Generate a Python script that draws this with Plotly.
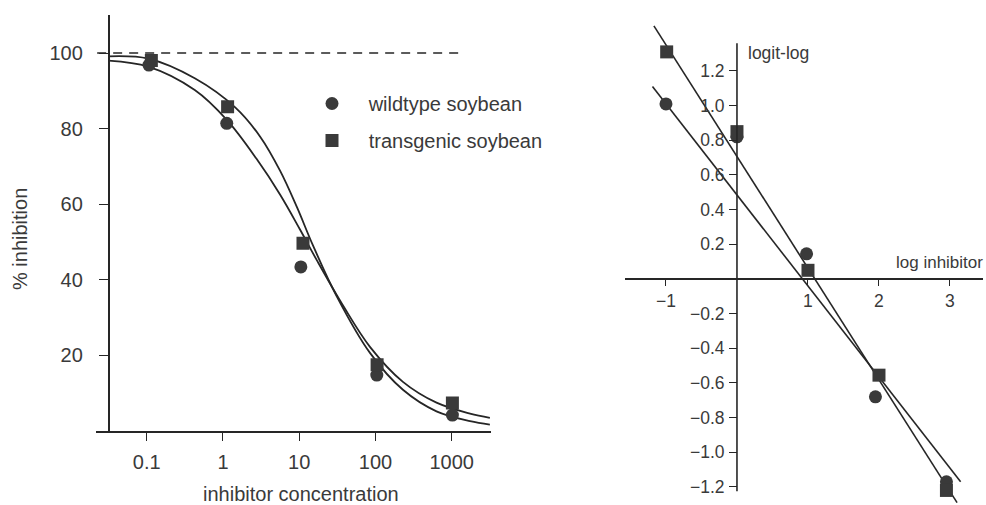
import plotly.graph_objects as go

# ---------------- data ----------------
# left panel: % inhibition vs inhibitor concentration
conc_wt = [0.107, 1.12, 10.5, 104, 1020]
pct_wt = [96.8, 81.4, 43.4, 14.8, 4.2]
conc_tg = [0.115, 1.15, 11.2, 105, 1020]
pct_tg = [98.0, 85.8, 49.7, 17.5, 7.4]

# fitted curves, sampled (log10 concentration, % inhibition)
curve_wt_logx = [-1.5, -0.98, -0.37, 0.05, 0.44, 0.75, 1.01, 1.23, 1.58, 1.93, 2.36, 2.8, 3.24, 3.5]
curve_wt_y = [98.0, 96.4, 90.2, 82.3, 72.0, 62.5, 53.3, 45.2, 33.0, 22.2, 13.0, 7.5, 4.6, 3.5]
curve_tg_logx = [-1.5, -0.98, -0.37, 0.16, 0.49, 0.75, 0.97, 1.18, 1.49, 1.93, 2.36, 2.8, 3.24, 3.5]
curve_tg_y = [99.1, 98.5, 93.3, 85.6, 77.8, 68.8, 59.2, 49.1, 35.7, 20.6, 10.9, 5.2, 2.6, 1.7]

plateau_logx = [-1.65, 3.15]
plateau_y = [100, 100]

x_ticks_left = [0.1, 1, 10, 100, 1000]
x_ticklabels_left = ["0.1", "1", "10", "100", "1000"]
y_ticks_left = [20, 40, 60, 80, 100]

# right panel: logit-log plot
logx_wt = [-1.0, 0.0, 0.98, 1.95, 2.95]
logit_wt = [1.01, 0.82, 0.145, -0.68, -1.17]
logx_tg = [-0.99, 0.0, 1.0, 2.0, 2.95]
logit_tg = [1.31, 0.85, 0.05, -0.555, -1.22]

fit_wt_x = [-1.19, 3.15]
fit_wt_y = [1.11, -1.17]
fit_tg_x = [-1.17, 3.10]
fit_tg_y = [1.46, -1.29]

x_ticks_right = [-1, 1, 2, 3]
y_ticks_right = [1.2, 1.0, 0.8, 0.6, 0.4, 0.2, -0.2, -0.4, -0.6, -0.8, -1.0, -1.2]

# ---------------- styling ----------------
W, H = 986, 505
FONT = "Liberation Sans, Arial, sans-serif"
INK = "#262626"
TXT = "#3a3a3a"
MK = "#3a3a3a"

def px_x(p):
    return p / W

def px_y(p):
    return (H - p) / H

fig = go.Figure()

# ---- left panel ----
fig.add_trace(go.Scatter(
    x=[10 ** v for v in plateau_logx], y=plateau_y, mode="lines",
    line=dict(color=INK, width=1.4, dash="9px,7px"),
    showlegend=False, hoverinfo="skip", xaxis="x", yaxis="y"))
fig.add_trace(go.Scatter(
    x=[10 ** v for v in curve_wt_logx], y=curve_wt_y, mode="lines",
    line=dict(color=INK, width=1.8, shape="spline", smoothing=1.0),
    showlegend=False, hoverinfo="skip", xaxis="x", yaxis="y"))
fig.add_trace(go.Scatter(
    x=[10 ** v for v in curve_tg_logx], y=curve_tg_y, mode="lines",
    line=dict(color=INK, width=1.8, shape="spline", smoothing=1.0),
    showlegend=False, hoverinfo="skip", xaxis="x", yaxis="y"))
fig.add_trace(go.Scatter(
    x=conc_wt, y=pct_wt, mode="markers", name="\u00a0\u00a0\u00a0wildtype soybean",
    marker=dict(symbol="circle", size=13, color=MK),
    legendgroup="wt", xaxis="x", yaxis="y"))
fig.add_trace(go.Scatter(
    x=conc_tg, y=pct_tg, mode="markers", name="\u00a0\u00a0\u00a0transgenic soybean",
    marker=dict(symbol="square", size=13, color=MK),
    legendgroup="tg", xaxis="x", yaxis="y"))

# ---- right panel ----
fig.add_trace(go.Scatter(
    x=fit_wt_x, y=fit_wt_y, mode="lines", line=dict(color=INK, width=1.6),
    showlegend=False, hoverinfo="skip", xaxis="x2", yaxis="y2"))
fig.add_trace(go.Scatter(
    x=fit_tg_x, y=fit_tg_y, mode="lines", line=dict(color=INK, width=1.6),
    showlegend=False, hoverinfo="skip", xaxis="x2", yaxis="y2"))
fig.add_trace(go.Scatter(
    x=logx_wt, y=logit_wt, mode="markers",
    marker=dict(symbol="circle", size=13, color=MK),
    showlegend=False, xaxis="x2", yaxis="y2"))
fig.add_trace(go.Scatter(
    x=logx_tg, y=logit_tg, mode="markers",
    marker=dict(symbol="square", size=13, color=MK),
    showlegend=False, xaxis="x2", yaxis="y2"))

left_xrange = [-1.66, 3.52]
left_dom = [px_x(96.4), px_x(491.4)]
yaxis_pos_left = left_dom[0] + (-1.5 - left_xrange[0]) / (left_xrange[1] - left_xrange[0]) * (left_dom[1] - left_dom[0])

fig.update_layout(
    width=W, height=H,
    margin=dict(l=0, r=0, t=0, b=0),
    paper_bgcolor="white", plot_bgcolor="white",
    font=dict(family=FONT, color=TXT, size=20),
    showlegend=True,
    hovermode=False,
    legend=dict(x=px_x(312), y=px_y(84), xanchor="left", yanchor="top",
                bgcolor="rgba(0,0,0,0)", font=dict(size=20, color=TXT),
                traceorder="grouped", tracegroupgap=8, itemclick=False),
    xaxis=dict(type="log", range=left_xrange, domain=left_dom, anchor="y",
               showgrid=False, zeroline=False, showline=True, linecolor=INK, linewidth=1.6,
               ticks="outside", ticklen=8, tickwidth=1.4, tickcolor=INK,
               tickvals=x_ticks_left, ticktext=x_ticklabels_left,
               tickfont=dict(size=20, color=TXT), ticklabelstandoff=4),
    yaxis=dict(range=[0, 110], domain=[px_y(431), px_y(15.2)], anchor="free",
               position=yaxis_pos_left,
               showgrid=False, zeroline=False, showline=True, linecolor=INK, linewidth=1.6,
               ticks="outside", ticklen=9, tickwidth=1.4, tickcolor=INK,
               tickvals=y_ticks_left, tickfont=dict(size=20, color=TXT),
               ticklabelstandoff=12),
    xaxis2=dict(range=[-1.577, 3.465], domain=[px_x(625), px_x(983)], anchor="free",
                position=px_y(279),
                showgrid=False, zeroline=False, showline=True, linecolor=INK, linewidth=1.6,
                ticks="outside", ticklen=6, tickwidth=1.4, tickcolor=INK,
                tickvals=x_ticks_right, tickfont=dict(size=17.5, color=TXT)),
    yaxis2=dict(range=[-1.304, 1.494], domain=[0, px_y(20)], anchor="free",
                position=px_x(737),
                showgrid=False, zeroline=False, showline=False,
                ticks="outside", ticklen=8, tickwidth=1.4, tickcolor=INK,
                tickvals=y_ticks_right, tickformat=".1f",
                tickfont=dict(size=17.5, color=TXT), ticklabelstandoff=1),
    annotations=[
        dict(text="% inhibition", x=px_x(20), y=px_y(239), xref="paper", yref="paper",
             textangle=-90, showarrow=False, font=dict(size=20, color=TXT),
             xanchor="center", yanchor="middle"),
        dict(text="inhibitor concentration", x=px_x(301), y=px_y(494), xref="paper", yref="paper",
             showarrow=False, font=dict(size=20, color=TXT), xanchor="center", yanchor="middle"),
        dict(text="logit-log", x=px_x(746), y=px_y(53), xref="paper", yref="paper",
             showarrow=False, font=dict(size=17.5, color=TXT), xanchor="left", yanchor="middle"),
        dict(text="log inhibitor", x=px_x(985), y=px_y(262), xref="paper", yref="paper",
             showarrow=False, font=dict(size=17, color=TXT), xanchor="right", yanchor="middle"),
    ],
    shapes=[
        dict(type="line", xref="x2", yref="y2", x0=0, x1=0, y0=-1.225, y1=1.36,
             line=dict(color=INK, width=1.6)),
    ],
)

fig.write_html("out.html", config={"displayModeBar": False},
               post_script="document.body.style.margin='0';document.body.style.padding='0';")
